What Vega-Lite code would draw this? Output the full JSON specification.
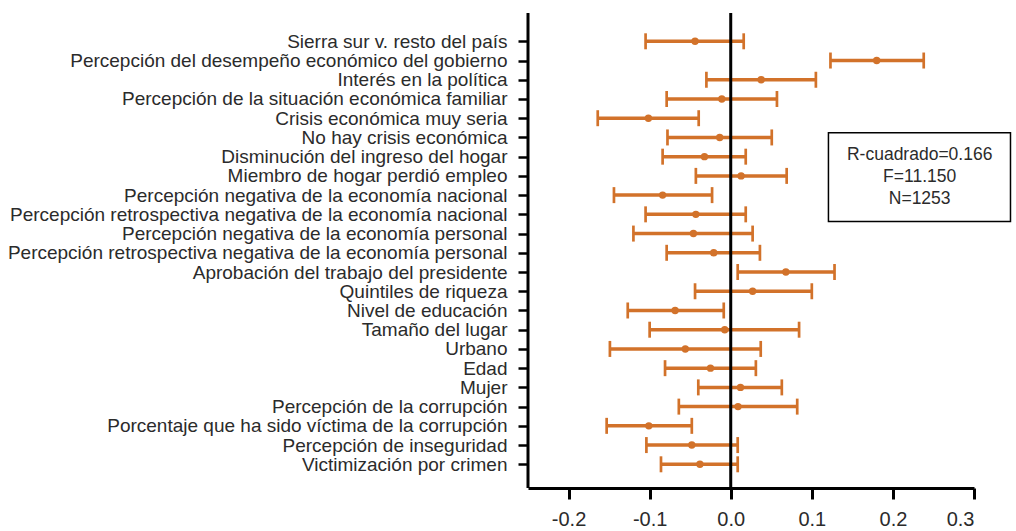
{
  "$schema": "https://vega.github.io/schema/vega-lite/v6.json",
  "autosize": "none",
  "padding": {"left": 528, "top": 13, "right": 42, "bottom": 43},
  "width": 446,
  "height": 475,
  "background": "white",
  "config": {"view": {"stroke": null}, "font": "Liberation Sans"},
  "datasets": {
    "coef": [
      {"var": "Sierra sur v. resto del país", "lo": -0.105, "est": -0.044, "hi": 0.016},
      {"var": "Percepción del desempeño económico del gobierno", "lo": 0.123, "est": 0.180, "hi": 0.238},
      {"var": "Interés en la política", "lo": -0.030, "est": 0.0375, "hi": 0.105},
      {"var": "Percepción de la situación económica familiar", "lo": -0.079, "est": -0.011, "hi": 0.057},
      {"var": "Crisis económica muy seria", "lo": -0.164, "est": -0.1015, "hi": -0.0395},
      {"var": "No hay crisis económica", "lo": -0.078, "est": -0.0136, "hi": 0.0506},
      {"var": "Disminución del ingreso del hogar", "lo": -0.084, "est": -0.0324, "hi": 0.0185},
      {"var": "Miembro de hogar perdió empleo", "lo": -0.043, "est": 0.0128, "hi": 0.069},
      {"var": "Percepción negativa de la economía nacional", "lo": -0.144, "est": -0.084, "hi": -0.023},
      {"var": "Percepción retrospectiva negativa de la economía nacional", "lo": -0.105, "est": -0.043, "hi": 0.0185},
      {"var": "Percepción negativa de la economía personal", "lo": -0.120, "est": -0.046, "hi": 0.027},
      {"var": "Percepción retrospectiva negativa de la economía personal", "lo": -0.079, "est": -0.021, "hi": 0.036},
      {"var": "Aprobación del trabajo del presidente", "lo": 0.0086, "est": 0.068, "hi": 0.128},
      {"var": "Quintiles de riqueza", "lo": -0.044, "est": 0.027, "hi": 0.100},
      {"var": "Nivel de educación", "lo": -0.127, "est": -0.0686, "hi": -0.0086},
      {"var": "Tamaño del lugar", "lo": -0.100, "est": -0.0074, "hi": 0.0843},
      {"var": "Urbano", "lo": -0.149, "est": -0.056, "hi": 0.037},
      {"var": "Edad", "lo": -0.081, "est": -0.025, "hi": 0.031},
      {"var": "Mujer", "lo": -0.040, "est": 0.012, "hi": 0.063},
      {"var": "Percepción de la corrupción", "lo": -0.064, "est": 0.009, "hi": 0.082},
      {"var": "Porcentaje que ha sido víctima de la corrupción", "lo": -0.153, "est": -0.101, "hi": -0.048},
      {"var": "Percepción de inseguridad", "lo": -0.104, "est": -0.048, "hi": 0.0086},
      {"var": "Victimización por crimen", "lo": -0.086, "est": -0.038, "hi": 0.0086}
    ],
    "one": [{}]
  },
  "data": {"name": "coef"},
  "encoding": {
    "y": {
      "field": "var", "type": "nominal", "sort": null,
      "scale": {"type": "point", "padding": 0, "range": [28.3, 451.3]},
      "axis": {
        "title": null, "domain": false,
        "tickColor": "black", "tickWidth": 2.5, "tickSize": 10,
        "labelFontSize": 19, "labelColor": "#2b2b2b", "labelPadding": 11,
        "labelFont": "Liberation Sans", "grid": false, "labelLimit": 600
      }
    }
  },
  "layer": [
    {
      "mark": {"type": "rule", "color": "#D2722A", "strokeWidth": 3.5},
      "encoding": {
        "x": {
          "field": "lo", "type": "quantitative",
          "scale": {"domain": [-0.25, 0.3], "nice": false, "zero": false},
          "axis": {
            "title": null, "values": [-0.2, -0.1, 0, 0.1, 0.2, 0.3],
            "labelExpr": "datum.value < -0.00001 ? '-' + format(-datum.value, '.1f') : format(datum.value, '.1f')",
            "domainColor": "black", "domainWidth": 3,
            "tickColor": "black", "tickWidth": 3, "tickSize": 11,
            "labelFontSize": 20, "labelColor": "#2b2b2b", "labelPadding": 10,
            "labelFont": "Liberation Sans", "grid": false
          }
        },
        "x2": {"field": "hi"}
      }
    },
    {
      "mark": {"type": "tick", "color": "#D2722A", "orient": "vertical", "size": 16, "thickness": 2.7, "opacity": 1},
      "encoding": {"x": {"field": "lo", "type": "quantitative"}}
    },
    {
      "mark": {"type": "tick", "color": "#D2722A", "orient": "vertical", "size": 16, "thickness": 2.7, "opacity": 1},
      "encoding": {"x": {"field": "hi", "type": "quantitative"}}
    },
    {
      "mark": {"type": "circle", "color": "#D2722A", "size": 55, "opacity": 1},
      "encoding": {"x": {"field": "est", "type": "quantitative"}}
    },
    {
      "data": {"name": "one"},
      "mark": {"type": "rule", "color": "black", "strokeWidth": 3},
      "encoding": {"x": {"datum": 0, "type": "quantitative"}, "y": null}
    },
    {
      "data": {"name": "one"},
      "mark": {"type": "rule", "color": "black", "strokeWidth": 3},
      "encoding": {"x": {"datum": -0.25, "type": "quantitative"}, "y": null}
    },
    {
      "data": {"name": "one"},
      "mark": {"type": "rect", "fill": null, "stroke": "black", "strokeWidth": 1.5, "yOffset": -4.7, "y2Offset": 7.1, "clip": false},
      "encoding": {
        "x": {"datum": 0.1205, "type": "quantitative"},
        "x2": {"datum": 0.345},
        "y": {"datum": "No hay crisis económica"},
        "y2": {"datum": "Percepción retrospectiva negativa de la economía nacional"}
      }
    },
    {
      "data": {"name": "one"},
      "mark": {"type": "text", "text": ["R-cuadrado=0.166", "F=11.150", "N=1253"], "lineHeight": 22, "fontSize": 17.5, "color": "#2b2b2b", "align": "center", "baseline": "middle", "dy": -1.5, "font": "Liberation Sans", "clip": false},
      "encoding": {
        "x": {"datum": 0.233, "type": "quantitative"},
        "y": {"datum": "Disminución del ingreso del hogar"}
      }
    }
  ]
}
